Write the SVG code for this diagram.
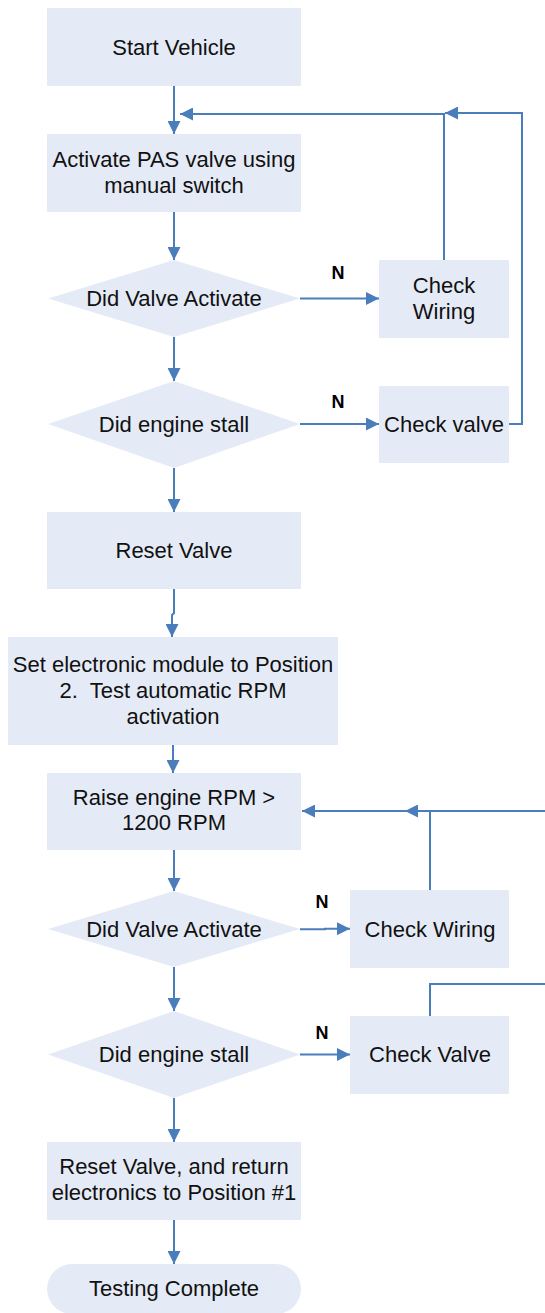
<svg xmlns="http://www.w3.org/2000/svg" width="545" height="1313" viewBox="0 0 545 1313">
<style>
.b{fill:#e5ebf6;stroke:none}
.t{font-family:"Liberation Sans",Arial,sans-serif;font-size:22px;fill:#111;text-anchor:middle}
.n{font-family:"Liberation Sans",Arial,sans-serif;font-size:18px;font-weight:bold;fill:#000;text-anchor:middle}
.c{fill:none;stroke:#4a7ebb;stroke-width:2}
</style>
<defs>
<marker id="ah" viewBox="0 0 13 13" refX="13" refY="6.5" markerWidth="13" markerHeight="13" markerUnits="userSpaceOnUse" orient="auto">
<path d="M0,0 L13,6.5 L0,13 Z" fill="#4a7ebb"/>
</marker>
</defs>
<rect width="545" height="1313" fill="#fff"/>
<g id="start"><rect class="b" x="47" y="8" width="254" height="78"/><text class="t" x="174" y="55">Start Vehicle</text></g>
<g id="activate"><rect class="b" x="47" y="134" width="254" height="78"/><text class="t" x="174" y="167">Activate PAS valve using</text><text class="t" x="174" y="193">manual switch</text></g>
<g id="dec1"><polygon class="b" points="48,298.5 174,260 300,298.5 174,337"/><text class="t" x="174" y="306">Did Valve Activate</text></g>
<g id="wiring1"><rect class="b" x="379" y="260" width="130" height="78"/><text class="t" x="444" y="293">Check</text><text class="t" x="444" y="319">Wiring</text></g>
<g id="dec2"><polygon class="b" points="48,424 174,381 300,424 174,468"/><text class="t" x="174" y="432">Did engine stall</text></g>
<g id="valve1"><rect class="b" x="379" y="386" width="130" height="77"/><text class="t" x="444" y="432">Check valve</text></g>
<g id="reset1"><rect class="b" x="47" y="512" width="254" height="77"/><text class="t" x="174" y="558">Reset Valve</text></g>
<g id="setmod"><rect class="b" x="8" y="637" width="330" height="108"/><text class="t" x="173" y="672">Set electronic module to Position</text><text class="t" x="173" y="698" xml:space="preserve">2.  Test automatic RPM</text><text class="t" x="173" y="724">activation</text></g>
<g id="raise"><rect class="b" x="47" y="773" width="254" height="77"/><text class="t" x="174" y="805">Raise engine RPM &gt;</text><text class="t" x="174" y="830">1200 RPM</text></g>
<g id="dec3"><polygon class="b" points="48,929 174,891 300,929 174,967"/><text class="t" x="174" y="937">Did Valve Activate</text></g>
<g id="wiring2"><rect class="b" x="350" y="890" width="159" height="78"/><text class="t" x="430" y="937">Check Wiring</text></g>
<g id="dec4"><polygon class="b" points="48,1054.5 174,1011 300,1054.5 174,1098"/><text class="t" x="174" y="1062">Did engine stall</text></g>
<g id="valve2"><rect class="b" x="350" y="1016" width="159" height="78"/><text class="t" x="430" y="1062">Check Valve</text></g>
<g id="reset2"><rect class="b" x="47" y="1142" width="254" height="78"/><text class="t" x="174" y="1174">Reset Valve, and return</text><text class="t" x="174" y="1200">electronics to Position #1</text></g>
<g id="done"><rect class="b" x="47" y="1264" width="254" height="50" rx="25"/><text class="t" x="174" y="1296">Testing Complete</text></g>
<g id="labels">
<text class="n" x="338" y="279">N</text>
<text class="n" x="338" y="408">N</text>
<text class="n" x="322" y="908">N</text>
<text class="n" x="322" y="1039">N</text>
</g>
<g id="connectors">
<path class="c" marker-end="url(#ah)" d="M174,86 V134"/>
<path class="c" marker-end="url(#ah)" d="M444,260 V114 H180"/>
<path class="c" marker-end="url(#ah)" d="M509,424 H522 V113 H445"/>
<path class="c" marker-end="url(#ah)" d="M174,212 V260"/>
<path class="c" marker-end="url(#ah)" d="M300,298.5 H379"/>
<path class="c" marker-end="url(#ah)" d="M174,337 V381"/>
<path class="c" marker-end="url(#ah)" d="M300,424 H379"/>
<path class="c" marker-end="url(#ah)" d="M174,468 V512"/>
<path class="c" marker-end="url(#ah)" d="M174,589 V613 L172,615 V637"/>
<path class="c" marker-end="url(#ah)" d="M173,745 V773"/>
<path class="c" marker-end="url(#ah)" d="M430,890 V811 H302"/>
<path class="c" marker-end="url(#ah)" d="M545,811 H405"/>
<path class="c" marker-end="url(#ah)" d="M174,850 V891"/>
<path class="c" marker-end="url(#ah)" d="M300,929.3 H325 V928.7 H350"/>
<path class="c" marker-end="url(#ah)" d="M174,967 V1011"/>
<path class="c" marker-end="url(#ah)" d="M300,1054.5 H350"/>
<path class="c" d="M430,1016 V984 H545"/>
<path class="c" marker-end="url(#ah)" d="M174,1098 V1142"/>
<path class="c" marker-end="url(#ah)" d="M174,1220 V1264"/>
</g>
</svg>
